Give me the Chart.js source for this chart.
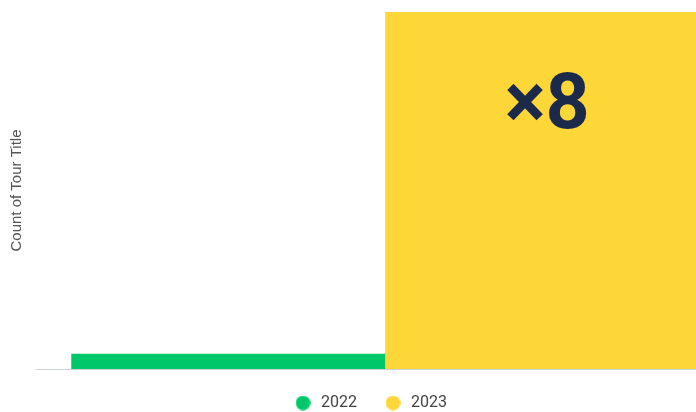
<!DOCTYPE html>
<html>
<head>
<meta charset="utf-8">
<script src="https://cdn.jsdelivr.net/npm/chart.js@4/dist/chart.umd.min.js"></script>
<style>
  html, body { margin: 0; padding: 0; overflow: hidden; background: #ffffff; }
  #wrap { position: relative; width: 740px; height: 412px; }
</style>
</head>
<body>
<div id="wrap"><canvas id="c" width="740" height="412"></canvas></div>
<script>
// Tour counts per year
const categories = ['Tours'];
const years = ['2022', '2023'];
const counts2022 = [1];
const counts2023 = [8];
const yearColors = ['#00c86a', '#fdd637'];

// Growth factor shown inside the 2023 bar
const growth = counts2023[0] / counts2022[0];
const growthLabel = '\u00d7' + growth;

// Round legend markers
function makeDot(color) {
  const c = document.createElement('canvas');
  c.width = 15; c.height = 15;
  const g = c.getContext('2d');
  g.fillStyle = color;
  g.beginPath();
  g.arc(7.5, 7.5, 7.3, 0, Math.PI * 2);
  g.fill();
  return c;
}
const legendDots = yearColors.map(makeDot);

const growthLabelPlugin = {
  id: 'growthLabel',
  afterDatasetsDraw(chart) {
    const bar = chart.getDatasetMeta(1).data[0];
    if (!bar) return;
    const ctx = chart.ctx;
    ctx.save();
    ctx.fillStyle = '#1b2a4b';
    ctx.font = '700 77px Roboto, sans-serif';
    ctx.textAlign = 'center';
    ctx.textBaseline = 'alphabetic';
    ctx.fillText(growthLabel, bar.x + 5, bar.y + 116);
    ctx.restore();
  }
};

new Chart(document.getElementById('c'), {
  type: 'bar',
  data: {
    labels: categories,
    datasets: [
      { label: years[0], data: counts2022, backgroundColor: yearColors[0], borderWidth: 0 },
      { label: years[1], data: counts2023, backgroundColor: yearColors[1], borderWidth: 0 }
    ]
  },
  options: {
    responsive: false,
    animation: false,
    devicePixelRatio: 1,
    layout: { padding: { top: 12, left: 6, right: 6, bottom: -9 } },
    datasets: { bar: { barPercentage: 1, categoryPercentage: 0.9 } },
    scales: {
      x: {
        grid: { display: false },
        ticks: { display: false },
        border: { display: true, color: '#cdd1da', width: 1 },
        afterFit(scale) { scale.height = 0; }
      },
      y: {
        min: 0.69,
        max: 8,
        grid: { display: false },
        ticks: { display: false },
        border: { display: false },
        title: {
          display: true,
          text: 'Count of Tour Title',
          color: '#555555',
          font: { family: 'Liberation Sans, Arial, sans-serif', size: 15 },
          padding: { top: 2, bottom: 2.4 }
        }
      }
    },
    plugins: {
      tooltip: { enabled: false },
      legend: {
        position: 'bottom',
        labels: {
          usePointStyle: true,
          pointStyleWidth: 20,
          padding: 26,
          color: '#444444',
          font: { family: 'Roboto, sans-serif', size: 16 },
          generateLabels(chart) {
            const items = Chart.defaults.plugins.legend.labels.generateLabels(chart);
            items.forEach((it, i) => { it.pointStyle = legendDots[i]; });
            return items;
          }
        }
      }
    }
  },
  plugins: [growthLabelPlugin]
});
</script>
</body>
</html>
